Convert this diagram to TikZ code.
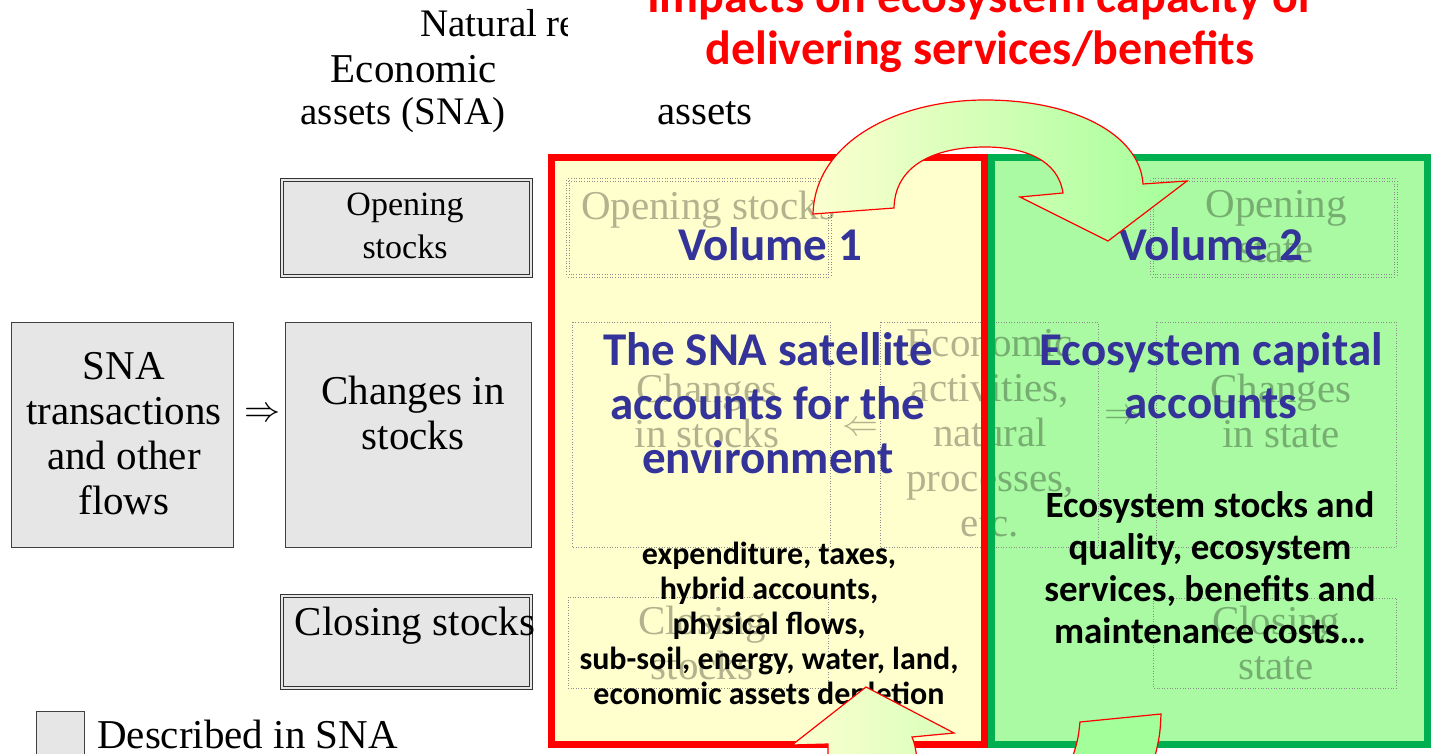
\documentclass[tikz,border=0pt]{standalone}
\usepackage{fontspec}
\setmainfont{Liberation Serif}
\newfontfamily\calibri{Carlito}
\usepackage{tikz}

\definecolor{volblue}{RGB}{51,51,153}
\definecolor{volyellow}{RGB}{255,255,206}
\definecolor{volgreen}{RGB}{170,250,163}
\definecolor{boxgreen}{RGB}{0,176,80}
\definecolor{snagray}{RGB}{230,230,230}
\definecolor{arrowyellow}{RGB}{252,255,208}
\definecolor{arrowgreen}{RGB}{163,255,153}

\newcommand{\implyright}{\scalebox{3.6}{$\Rightarrow$}}
\newcommand{\implyleft}{\scalebox{3.6}{$\Leftarrow$}}

\tikzset{
	snabox/.style={draw=black!75, fill=snagray, line width=0.8pt},
	snadouble/.style={draw=black!80, fill=snagray, double=snagray, double distance=2pt, line width=0.7pt},
	serif/.style={font=\fontsize{41}{45}\selectfont, align=center, inner sep=0pt},
	ghostbox/.style={draw=black!45, dotted, line width=0.6pt},
	ghostdouble/.style={ghostbox, double=volyellow, double distance=2pt},
	ghost/.style={serif, text=black, text opacity=0.3},
	ghostarrow/.style={font=\normalsize, inner sep=0pt, text=black, text opacity=0.3},
	volhead/.style={font=\calibri\bfseries\fontsize{47}{54}\selectfont, text=volblue, align=center, inner sep=0pt},
	volbody/.style={font=\calibri\bfseries\fontsize{32}{35}\selectfont, align=center, inner sep=0pt},
	bigarrow/.style={draw=red, line width=1.2pt, line join=miter}
}

\begin{document}
\begin{tikzpicture}[x=1pt,y=-1pt]
\useasboundingbox (0,0) rectangle (1435,754);

% header of the SNA columns
\begin{scope}
	\clip (0,0) rectangle (567,754);
	\node[serif, font=\fontsize{39}{45}\selectfont, anchor=base west] (natural) at (420,37) {Natural re};
\end{scope}
\node[serif, anchor=base] (economic) at (414,83) {Economic};
\node[serif, font=\fontsize{39}{45}\selectfont, anchor=base] (assetssna) at (403,125) {assets (SNA)};
\node[serif, anchor=base west] (assetsnat) at (657,125) {assets};

% SNA boxes
\draw[snadouble] (282,180) rectangle (531,276);
\node[serif, font=\fontsize{34}{43}\selectfont, anchor=south] (opening) at (405,259) {Opening\\stocks};

\draw[snabox] (11,322) rectangle (233,547);
\node[serif, anchor=south] (transactions) at (124,515) {SNA\\transactions\\and other\\flows};

\node[inner sep=0pt] (imply) at (262,415) {\implyright};

\draw[snabox] (285,322) rectangle (531,547);
\node[serif, anchor=south] (changes) at (413,450) {Changes in\\stocks};

\draw[snadouble] (282,596) rectangle (531,688);
\node[serif, anchor=base] (closing) at (415,635) {Closing stocks};

% legend
\draw[snabox] (36,711) rectangle (84,765);
\node[serif, anchor=base west] (legend) at (97,748) {Described in SNA};

% the two volumes
\fill[volgreen] (991.5,157.5) rectangle (1427,744);
\fill[volyellow] (551.5,157.5) rectangle (984.5,744);

% old slide showing through
\draw[ghostdouble] (568,180) rectangle (830,276);
\node[ghost, anchor=base] (gopenstocks) at (708,220) {Opening stocks};
\draw[ghostbox] (572,322) rectangle (830,547);
\node[ghost, anchor=south] (gchangestocks) at (707,448) {Changes\\in stocks};
\node[ghostarrow] (gleft) at (860,429) {\implyleft};
\draw[ghostbox] (880,322) rectangle (1098,547);
\node[ghost, anchor=south] (geconomic) at (990,537) {Economic\\activities,\\natural\\processes,\\etc.};
\node[ghostarrow] (gright) at (1122,417) {\implyright};
\draw[ghostdouble, double=volgreen] (1152,180) rectangle (1396,276);
\node[ghost, anchor=south] (gopenstate) at (1276,263) {Opening\\state};
\draw[ghostbox] (1156,322) rectangle (1396,547);
\node[ghost, anchor=south] (gchangestate) at (1281,448) {Changes\\in state};
\draw[ghostbox] (568,597) rectangle (828,688);
\node[ghost, anchor=south] (gclosestocks) at (702,680) {Closing\\stocks};
\draw[ghostbox] (1153,598) rectangle (1396,688);
\node[ghost, anchor=south] (gclosestate) at (1276,680) {Closing\\state};

\draw[boxgreen, line width=7pt] (991.5,157.5) rectangle (1427,744);
\draw[red, line width=7pt] (551.5,157.5) rectangle (984.5,744);

% volume texts
\node[volhead, anchor=base] (vol1) at (770,260) {Volume 1};
\node[volhead, anchor=south] (satellite) at (768,474) {The SNA satellite\\accounts for the\\environment};
\node[volbody, anchor=south] (hybrid) at (769,710) {expenditure, taxes,\\hybrid accounts,\\physical flows,\\sub-soil, energy, water, land,\\economic assets depletion};

\node[volhead, anchor=base] (vol2) at (1211,260) {Volume 2};
\node[volhead, font=\calibri\bfseries\fontsize{47}{53}\selectfont, anchor=south] (ecocapital) at (1211,419) {Ecosystem capital\\accounts};
\node[volbody, font=\calibri\bfseries\fontsize{37}{42}\selectfont, anchor=south] (ecostocks) at (1210,644) {Ecosystem stocks and\\quality, ecosystem\\services, benefits and\\maintenance costs…};

% arrows
\path[bigarrow, left color=arrowyellow, right color=arrowgreen]
	(813,214) .. controls (815,140) and (900,100) .. (985,100)
	.. controls (1075,100) and (1140,135) .. (1143,184)
	-- (1187,181) -- (1108,241) -- (1020,197) -- (1063,193)
	.. controls (1058,160) and (1025,147) .. (985,147)
	.. controls (935,147) and (895,165) .. (894,208) -- cycle;

\path[bigarrow, left color=arrowyellow, right color=arrowyellow!60!arrowgreen]
	(828,765) -- (828,744) -- (792,745) -- (866,687) -- (954,733) -- (912,737)
	.. controls (915,745) .. (918,765) -- cycle;

\path[bigarrow, fill=arrowgreen]
	(1070,765) .. controls (1078,740) .. (1080,722) -- (1161,714)
	.. controls (1160,735) .. (1153,765) -- cycle;

% title
\node[font=\calibri\bfseries\fontsize{48}{52}\selectfont, text=red, align=center, inner sep=0pt, anchor=south] (title) at (980,73) {Impacts on ecosystem capacity of\\delivering services/benefits};

\end{tikzpicture}
\end{document}
